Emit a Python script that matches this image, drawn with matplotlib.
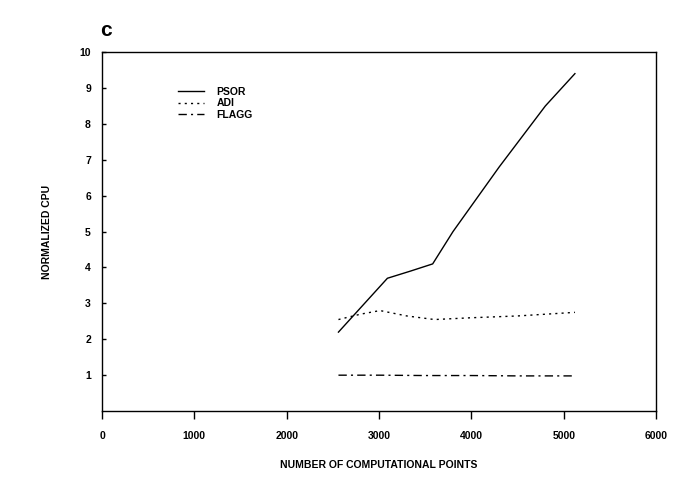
import matplotlib.pyplot as plt

# data
points = [2560, 3090, 3340, 3580, 3800, 4300, 4800, 5120]
psor = [2.2, 3.7, 3.9, 4.1, 5.0, 6.8, 8.5, 9.4]

adi_points = [2560, 2800, 3010, 3300, 3600, 4000, 4500, 5120]
adi = [2.55, 2.7, 2.8, 2.65, 2.55, 2.6, 2.65, 2.75]

flagg_points = [2560, 3000, 3500, 4000, 4500, 5120]
flagg = [1.0, 1.0, 0.99, 0.99, 0.98, 0.98]

xticks = [0, 1000, 2000, 3000, 4000, 5000, 6000]
yticks = [1, 2, 3, 4, 5, 6, 7, 8, 9, 10]

plt.rcParams['font.family'] = ['Liberation Sans', 'DejaVu Sans']
plt.rcParams['font.weight'] = 'bold'

fig = plt.figure(figsize=(6.8, 4.78), dpi=100)
ax = fig.add_axes([0.15, 0.14, 0.815, 0.751])

ax.plot(points, psor, color='black', lw=1.0, ls='-', label='PSOR')
ax.plot(adi_points, adi, color='black', lw=1.0, ls=(0, (1.5, 3)), label='ADI')
ax.plot(flagg_points, flagg, color='black', lw=1.0, ls=(0, (6, 3, 1.5, 3)), label='FLAGG')

ax.set_xlim(0, 6000)
ax.set_ylim(0, 10)
ax.set_xticks(xticks)
ax.set_yticks(yticks)
ax.tick_params(axis='x', direction='out', length=6, width=1, labelsize=7.5, pad=8)
ax.tick_params(axis='y', direction='in', length=3, width=1, labelsize=7.5, pad=8)
for s in ax.spines.values():
    s.set_linewidth(1.0)

ax.set_xlabel('NUMBER OF COMPUTATIONAL POINTS', fontsize=7.5, fontweight='bold', labelpad=14)
ax.set_ylabel('NORMALIZED CPU', fontsize=7.5, fontweight='bold', labelpad=20)

ax.legend(loc='upper left', bbox_to_anchor=(0.12, 0.93), frameon=False, fontsize=7.5,
          handlelength=2.5, handletextpad=1.2, labelspacing=0.15)

fig.text(0.147, 0.925, 'c', fontsize=15, fontweight='bold')

plt.savefig('out.png', dpi=100)
